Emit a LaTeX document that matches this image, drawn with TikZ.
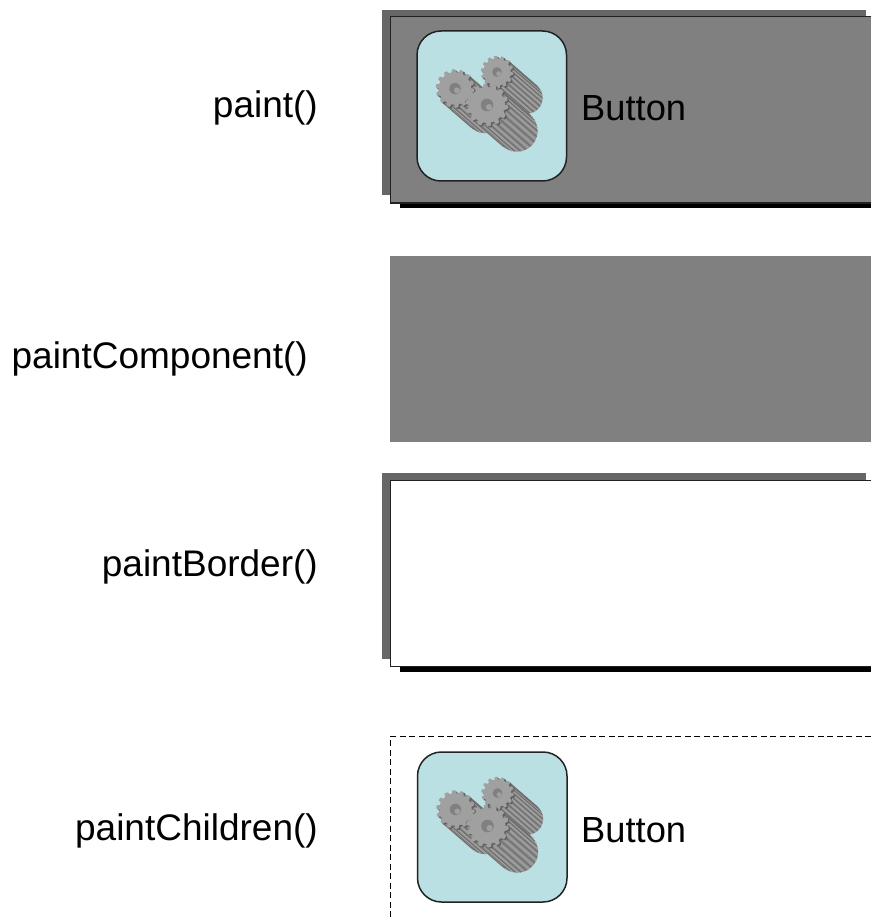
\documentclass[tikz,border=0pt]{standalone}
\usepackage{fontspec}
\setmainfont{Liberation Sans}
\definecolor{panelgray}{HTML}{808080}
\definecolor{edgegray}{HTML}{666666}
\definecolor{iconblue}{HTML}{BBE0E4}
\definecolor{gearface}{HTML}{A0A0A0}
\definecolor{gearlight}{HTML}{9E9E9E}
\definecolor{geardark}{HTML}{6C6C6C}
\definecolor{gearmid}{HTML}{8A8A8A}
\definecolor{holedark}{HTML}{808080}
\definecolor{linegray}{HTML}{222222}
\newcommand{\gearoutline}[1]{plot[samples=113,domain=0:360] (\x:{#1*(0.93+0.08*sign(sin(14*\x)))}) -- cycle}
\newcommand{\onegear}[3]{%
  % #1,#2 centre, #3 radius
  \begin{scope}[shift={(#1,#2)}]
    \foreach \s in {30,28,...,2}{
      \fill[gearmid,shift={(\s,0.87*\s)}] (0,0) circle (#3-0.5);
    }
    \foreach \a in {-48,-32,...,130}{
      \draw[gearlight,line width=1.6pt] (\a+8:#3-0.5) -- ++(30,26);
      \draw[geardark,line width=0.9pt] (\a:#3-0.5) -- ++(30,26);
    }
    \fill[gearmid!70!black,shift={(1.5,1.3)}] \gearoutline{#3};
    \fill[gearface] \gearoutline{#3};
    \fill[holedark] (0,0) circle ({0.3*#3});
    \fill[gearface] (0.1*#3,0.1*#3) circle ({0.15*#3});
  \end{scope}%
}
\newcommand{\gearicon}[2]{%
  \begin{scope}[shift={(#1,#2)}]
    \draw[icon] (0,0) rectangle (149.5,150);
    \onegear{80}{41}{16}
    \onegear{38}{57.5}{19}
    \onegear{70}{74}{21}
  \end{scope}%
}
\tikzset{
  icon/.style={fill=iconblue,draw=linegray,line width=1.5pt,rounded corners=24pt},
  lab/.style={anchor=base east,font=\fontsize{37}{40}\selectfont,inner sep=0pt,text=black},
  btn/.style={anchor=base west,font=\fontsize{36.3}{40}\selectfont,inner sep=0pt,text=black},
}
\begin{document}
\begin{tikzpicture}[x=1pt,y=-1pt]
\useasboundingbox (0,0) rectangle (871,920);
\fill[white] (0,0) rectangle (871,920);
% panel 1
\fill[edgegray] (382,10) rectangle (866,195);
\fill[black] (400,203) rectangle (871,208);
\fill[panelgray] (390.5,16.5) rectangle (871,203);
\draw[linegray,line width=1.4pt] (871,16.5) -- (390.5,16.5) -- (390.5,203) -- (871,203);
\gearicon{417}{31}
\node[btn] (b1) at (581,121) {Button};
\node[lab] (l1) at (318,118) {paint()};
% panel 2
\fill[panelgray] (390,256) rectangle (871,442);
\node[lab] (l2) at (308,368) {paintComponent()};
% panel 3
\fill[edgegray] (382,473) rectangle (866,659);
\fill[black] (400,666) rectangle (871,672);
\fill[white] (390.5,480.5) rectangle (871,666.5);
\draw[linegray,line width=1.4pt] (871,480.5) -- (390.5,480.5) -- (390.5,666.5) -- (871,666.5);
\node[lab] (l3) at (318,576) {paintBorder()};
% panel 4
\draw[black,line width=1pt,dash pattern=on 6pt off 3.5pt] (871,736) -- (390.5,736) -- (390.5,920);
\gearicon{417.5}{752}
\node[btn] (b2) at (581,842) {Button};
\node[lab] (l4) at (318,840) {paintChildren()};
\end{tikzpicture}
\end{document}
